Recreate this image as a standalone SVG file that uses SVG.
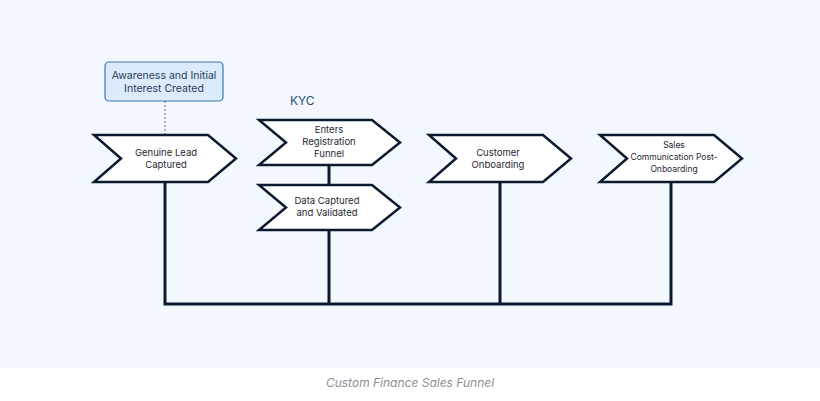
<svg xmlns="http://www.w3.org/2000/svg" width="820" height="401" viewBox="0 0 820 401">
<style>
.sh{fill:#fff;stroke:#0b1a2e;stroke-width:2.5;stroke-linejoin:miter}
.t{font-family:Inter,"Liberation Sans",sans-serif;font-size:9.5px;fill:#1e2733;text-anchor:middle}
.c{fill:none;stroke:#0b1a2e;stroke-width:3}
</style>
<rect width="820" height="401" fill="#fff"/>
<rect width="820" height="368" fill="#f3f8fe"/>
<g id="connectors">
<line x1="165" y1="101" x2="165" y2="135" stroke="#666" stroke-width="1" stroke-dasharray="2,2"/>
<path class="c" d="M165 182V304H671V182M329 304V230M329 185V165M500 182V304"/>
</g>
<g id="awareness">
<rect x="105" y="62" width="118" height="39" rx="4" fill="#dcebfb" stroke="#3a78b5" stroke-width="1.2"/>
<text class="t" x="164" y="79" fill="#1f3b5c" style="font-size:10.5px;fill:#1f3b5c">Awareness and Initial</text>
<text class="t" x="164" y="92" style="font-size:10.5px;fill:#1f3b5c">Interest Created</text>
</g>
<text x="290" y="105" font-family="Inter,'Liberation Sans',sans-serif" font-size="12" fill="#2a4d75">KYC</text>
<g id="lead">
<path class="sh" d="M94 135H208L236 158.5L208 182H94L121 158.5Z"/>
<text class="t" x="166" y="156">Genuine Lead</text><text class="t" x="166" y="168">Captured</text>
</g>
<g id="register">
<path class="sh" d="M259 120H372L400 142.5L372 165H259L286 142.5Z"/>
<text class="t" x="329" y="133">Enters</text><text class="t" x="329" y="145">Registration</text><text class="t" x="329" y="157">Funnel</text>
</g>
<g id="data">
<path class="sh" d="M259 185H372L400 207.5L372 230H259L286 207.5Z"/>
<text class="t" x="327" y="204">Data Captured</text><text class="t" x="327" y="216">and Validated</text>
</g>
<g id="onboard">
<path class="sh" d="M429 135H543L571 158.5L543 182H429L456 158.5Z"/>
<text class="t" x="498" y="156">Customer</text><text class="t" x="498" y="168">Onboarding</text>
</g>
<g id="sales">
<path class="sh" d="M600 135H714L742 158.5L714 182H600L627 158.5Z"/>
<text class="t" x="674" y="148" style="font-size:8.5px">Sales</text><text class="t" x="674" y="160" style="font-size:8.5px">Communication Post-</text><text class="t" x="674" y="172" style="font-size:8.5px">Onboarding</text>
</g>
<text x="410" y="387" font-family="Inter,'Liberation Sans',sans-serif" font-size="12" font-style="italic" fill="#8a8f96" text-anchor="middle">Custom Finance Sales Funnel</text>
</svg>
